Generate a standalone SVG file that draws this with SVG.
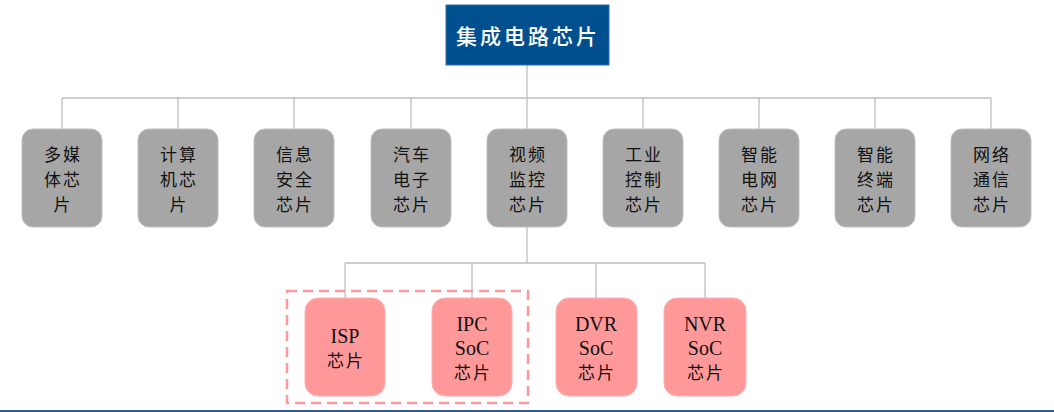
<svg xmlns="http://www.w3.org/2000/svg" width="1054" height="412" viewBox="0 0 1054 412">
<style>
.cn{font-family:"Noto Sans CJK SC","Noto Sans",sans-serif;}
.g rect{fill:#A6A6A6;stroke:#BFBFBF;stroke-width:1;}
.g text{font-family:"Noto Sans CJK SC",sans-serif;font-size:17px;fill:#111;text-anchor:middle;letter-spacing:2px;}
.p rect{fill:#FF9999;stroke:#FFB0B0;stroke-width:1;}
.p text{font-family:"Liberation Serif","Noto Sans CJK SC",serif;font-size:20px;fill:#111;text-anchor:middle;}
.p text.c{font-family:"Noto Sans CJK SC",sans-serif;font-size:17px;letter-spacing:2px;}
.conn{stroke:#BFBFBF;stroke-width:1.3;fill:none;}
</style>
<rect width="1054" height="412" fill="#fff"/>
<g id="connectors" class="conn">
<path d="M527 65V98M62 98H991M62 98V129M178 98V129M294 98V129M411 98V129M527 98V129M643 98V129M759 98V129M875 98V129M991 98V129"/>
<path d="M527 227V263M345 263H705M345 263V298M472 263V298M596 263V298M705 263V298"/>
</g>
<g id="root">
<rect x="446" y="5" width="163" height="60" fill="#00508F" stroke="#2E6FB0" stroke-width="1"/>
<text x="528" y="44" class="cn" font-size="21" font-weight="500" fill="#fff" text-anchor="middle" letter-spacing="3">集成电路芯片</text>
</g>
<g id="n1" class="g"><rect x="22" y="129" width="80" height="98" rx="11"/><text x="63" y="161">多媒</text><text x="63" y="186">体芯</text><text x="63" y="211">片</text></g>
<g id="n2" class="g"><rect x="138" y="129" width="80" height="98" rx="11"/><text x="179" y="161">计算</text><text x="179" y="186">机芯</text><text x="179" y="211">片</text></g>
<g id="n3" class="g"><rect x="254" y="129" width="80" height="98" rx="11"/><text x="295" y="161">信息</text><text x="295" y="186">安全</text><text x="295" y="211">芯片</text></g>
<g id="n4" class="g"><rect x="371" y="129" width="80" height="98" rx="11"/><text x="412" y="161">汽车</text><text x="412" y="186">电子</text><text x="412" y="211">芯片</text></g>
<g id="n5" class="g"><rect x="487" y="129" width="80" height="98" rx="11"/><text x="528" y="161">视频</text><text x="528" y="186">监控</text><text x="528" y="211">芯片</text></g>
<g id="n6" class="g"><rect x="603" y="129" width="80" height="98" rx="11"/><text x="644" y="161">工业</text><text x="644" y="186">控制</text><text x="644" y="211">芯片</text></g>
<g id="n7" class="g"><rect x="719" y="129" width="80" height="98" rx="11"/><text x="760" y="161">智能</text><text x="760" y="186">电网</text><text x="760" y="211">芯片</text></g>
<g id="n8" class="g"><rect x="835" y="129" width="80" height="98" rx="11"/><text x="876" y="161">智能</text><text x="876" y="186">终端</text><text x="876" y="211">芯片</text></g>
<g id="n9" class="g"><rect x="951" y="129" width="80" height="98" rx="11"/><text x="992" y="161">网络</text><text x="992" y="186">通信</text><text x="992" y="211">芯片</text></g>
<g id="group-box"><rect x="287" y="291" width="241" height="112" fill="none" stroke="#FF9999" stroke-width="2.5" stroke-dasharray="10 6"/></g>
<g id="isp" class="p"><rect x="305" y="298" width="80" height="98" rx="13"/><text x="345" y="343">ISP</text><text class="c" x="346" y="367">芯片</text></g>
<g id="ipc" class="p"><rect x="432" y="298" width="80" height="98" rx="13"/><text x="472" y="331">IPC</text><text x="472" y="355">SoC</text><text class="c" x="473" y="379">芯片</text></g>
<g id="dvr" class="p"><rect x="556" y="298" width="81" height="98" rx="13"/><text x="596" y="331">DVR</text><text x="596" y="355">SoC</text><text class="c" x="597" y="379">芯片</text></g>
<g id="nvr" class="p"><rect x="664" y="298" width="82" height="98" rx="13"/><text x="705" y="331">NVR</text><text x="705" y="355">SoC</text><text class="c" x="706" y="379">芯片</text></g>
<line x1="0" y1="411" x2="1054" y2="411" stroke="#2F5D8F" stroke-width="2"/>
</svg>
